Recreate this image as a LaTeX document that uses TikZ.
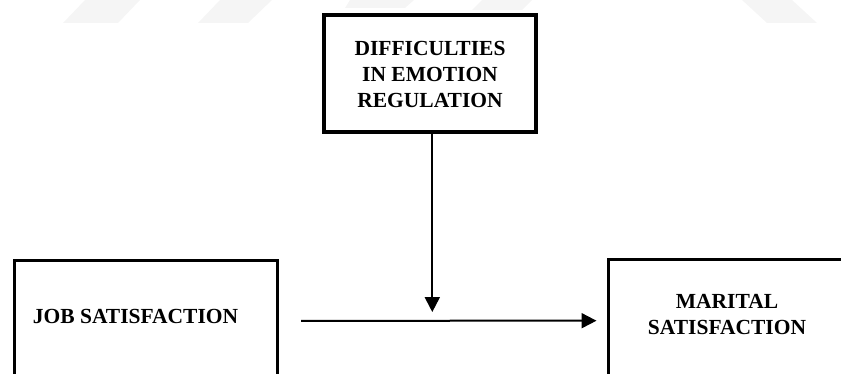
\documentclass[tikz,border=0pt]{standalone}
\usepackage{fontspec}
\setmainfont{Liberation Serif}
\usetikzlibrary{arrows.meta,calc}
\begin{document}
\begin{tikzpicture}[x=1pt,y=-1pt,
  boxlabel/.style={font=\bfseries\fontsize{21.5}{26}\selectfont, align=center, inner sep=0pt},
  conn/.style={line width=2pt, -{Triangle[length=15pt,width=15pt]}},
  wmark/.style={fill=black!4, draw=none}]
\useasboundingbox (0,0) rectangle (841,374);
\clip (0,0) rectangle (841,374);
% faint watermark stripes
\fill[wmark] (85,0) -- (140,0) -- (118,23) -- (63,23) -- cycle;
\fill[wmark] (220,0) -- (272,0) -- (248,23) -- (198,23) -- cycle;
\fill[wmark] (350,0) -- (414,0) -- (405,8) -- (345,8) -- cycle;
\fill[wmark] (482,0) -- (532,0) -- (522,10) -- (472,10) -- cycle;
\fill[wmark] (742,0) -- (792,0) -- (817,23) -- (767,23) -- cycle;
% boxes
\node[draw, line width=4pt, minimum width=212pt, minimum height=116.7pt, inner sep=0pt] (diff) at (429.7,73.7) {};
\node[boxlabel] (difft) at (430,74) {DIFFICULTIES\\IN EMOTION\\REGULATION};
\node[draw, line width=3pt, minimum width=263pt, minimum height=180pt, inner sep=0pt, anchor=north west] (jobbox) at (13.2,258.8) {};
\node[boxlabel] (job) at (135.5,316) {JOB SATISFACTION};
\node[draw, line width=3pt, minimum width=280pt, minimum height=180pt, inner sep=0pt, anchor=north west] (marbox) at (606.5,258.2) {};
\node[boxlabel] (mar) at (727,315) {MARITAL\\SATISFACTION};
% connector end points
\coordinate (hs) at ($(jobbox.north east)+(22,62)$);
\coordinate (he) at ($(marbox.north west)+(-10,62.5)$);
\coordinate (vt) at ($(diff.south)+(2.6,178)$);
% connectors
\draw[conn] ($(diff.south)+(2.6,0)$) -- (vt);
\draw[conn] (hs) -- (he);
\end{tikzpicture}
\end{document}
